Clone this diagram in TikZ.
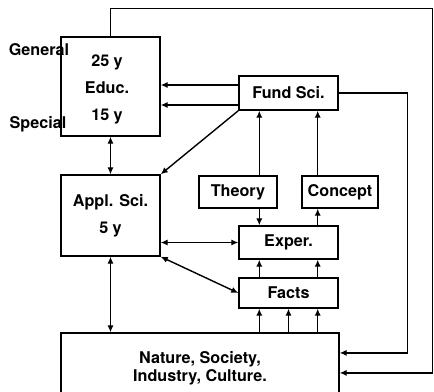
\documentclass[tikz,border=0pt]{standalone}
\usepackage{fontspec}
\setmainfont{TeX Gyre Heros}
\usetikzlibrary{
    arrows.meta,
    positioning
}

\begin{document}
\begin{tikzpicture}[
        x=0.025cm, y=-0.025cm,
        >={Latex[length=5pt,width=4.5pt]},
        every path/.style={line width=1pt},
        every node/.style={
            font=\fontsize{11.5}{13}\selectfont\bfseries,
            align=center
        },
        box/.style={
            rectangle,
            draw,
            line width=1pt,
            inner sep=0pt
        }
    ]
    \useasboundingbox (0,0) rectangle (434,391);

    \node[box, minimum width=99*0.025cm, minimum height=99*0.025cm] (educ) at (110.5,86.5) {};
    \node (eductxt) at (107,89.5) {25 y\\[6pt]Educ.\\[6pt]15 y};
    \node (general) at (39,50) {General};
    \node (special) at (38,124) {Special};

    \node[box, minimum width=99*0.025cm, minimum height=34*0.025cm] (fund) at (288.5,93) {Fund Sci.};
    \node[box, minimum width=99*0.025cm, minimum height=81*0.025cm] (appl) at (110.5,215.5) {Appl. Sci.\\[6pt]5 y};
    \node[box, minimum width=78*0.025cm, minimum height=32*0.025cm] (theory) at (238,192) {Theory};
    \node[box, minimum width=76*0.025cm, minimum height=32*0.025cm] (concept) at (340,192) {Concept};
    \node[box, minimum width=99*0.025cm, minimum height=33*0.025cm] (exper) at (288.5,242.5) {Exper.};
    \node[box, minimum width=99*0.025cm, minimum height=30*0.025cm] (facts) at (288.5,293) {Facts};
    \node[box, minimum width=278*0.025cm, minimum height=67*0.025cm] (nature) at (200,366.5) {};
    \node (naturetxt) at (200,368) {Nature, Society,\\Industry, Culture.};

    \coordinate (cA) at ([xshift=0.525cm]fund.south west);
    \coordinate (cB) at ([xshift=-0.525cm]fund.south east);

    % feedback loops
    \draw[->] (educ.north) -- ++(0,-28) -- ++(322,0) |- ([yshift=-0.16cm]nature.east);
    \draw[->] (fund.east) -- ++(69,0) |- ([yshift=0.34cm]nature.east);

    \draw[->] ([yshift=0.2cm]fund.west) -- ([yshift=0.2cm]fund.west -| educ.east);
    \draw[->] ([yshift=-0.3cm]fund.west) -- ([yshift=-0.3cm]fund.west -| educ.east);
    \draw[->] (fund.south west) -- (appl.north east);

    \draw[<->] (educ.south) -- (appl.north);
    \draw[<->] (appl.south) -- (appl.south |- nature.north);
    \draw[<->] (appl.east |- exper.west) -- (exper.west);
    \draw[<->] (appl.south east) -- (facts.west);

    \draw[->] (theory.north -| cA) -- (fund.south -| cA);
    \draw[->] (concept.north -| cB) -- (fund.south -| cB);
    \draw[->] (theory.south -| cA) -- (exper.north -| cA);
    \draw[->] (exper.north -| cB) -- (concept.south -| cB);

    \draw[->] (facts.north -| cA) -- (exper.south -| cA);
    \draw[->] (facts.north -| cB) -- (exper.south -| cB);

    \draw[->] (nature.north -| cA) -- (facts.south -| cA);
    \draw[->] (nature.north -| facts.south) -- (facts.south);
    \draw[->] (nature.north -| cB) -- (facts.south -| cB);

\end{tikzpicture}
\end{document}
